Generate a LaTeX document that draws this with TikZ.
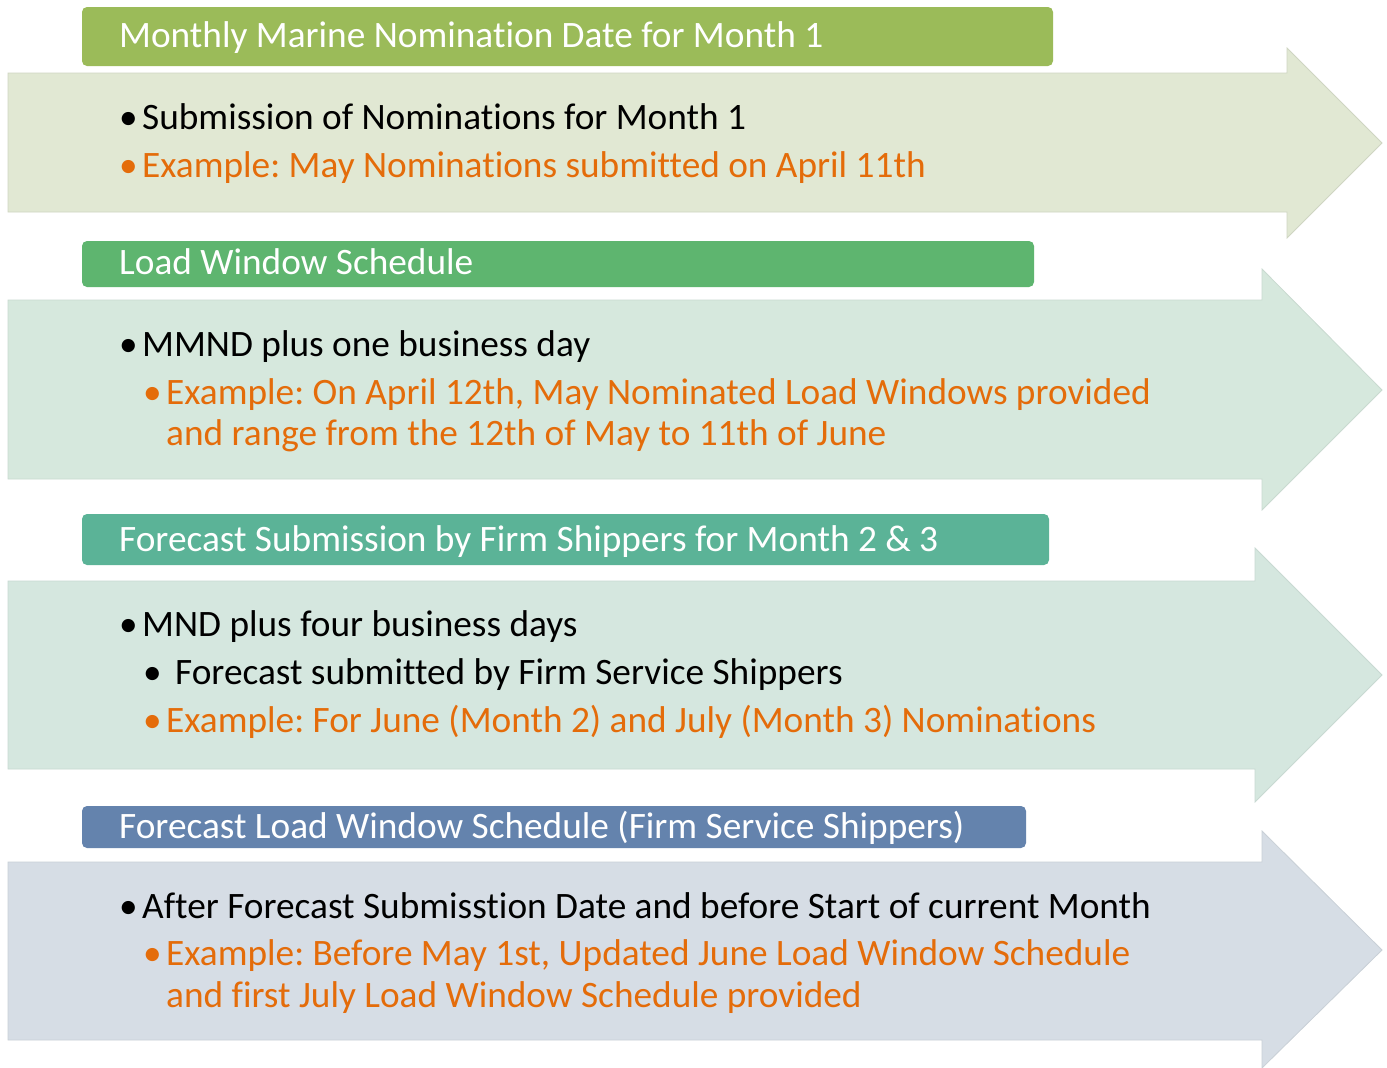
\documentclass[tikz,border=0pt]{standalone}
\usepackage{fontspec}
\setmainfont{Carlito}[Ligatures=NoCommon]
\frenchspacing
\begin{document}
\begin{tikzpicture}[x=1pt,y=-1pt,
  hdr/.style={rounded corners=5pt},
  htext/.style={anchor=base west,inner sep=0pt,text=white,font=\fontsize{37.3}{44}\selectfont},
  btext/.style={anchor=base west,inner sep=0pt,text=black,font=\fontsize{37.3}{44}\selectfont},
  otext/.style={anchor=base west,inner sep=0pt,text=exorange,font=\fontsize{37.3}{44}\selectfont},
]
\definecolor{exorange}{HTML}{E46C0A}
\definecolor{hdrA}{HTML}{9BBB59}
\definecolor{hdrB}{HTML}{5EB56F}
\definecolor{hdrC}{HTML}{5BB397}
\definecolor{hdrD}{HTML}{6483AD}
\definecolor{arrA}{HTML}{E1E8D3}
\definecolor{arrB}{HTML}{D6E8DD}
\definecolor{arrC}{HTML}{D5E7DF}
\definecolor{arrD}{HTML}{D6DDE5}
\useasboundingbox (0,0) rectangle (1387,1068);
\fill[white] (0,0) rectangle (1387,1068);

% block arrows
\filldraw[fill=arrA,draw=arrA!92!black,line width=0.8pt]
  (8,73) -- (1287,73) -- (1287,48) -- (1382,143) -- (1287,238) -- (1287,212) -- (8,212) -- cycle;
\filldraw[fill=arrB,draw=arrB!94!black,line width=0.8pt]
  (8,300) -- (1262,300) -- (1262,269) -- (1382,390) -- (1262,510) -- (1262,479) -- (8,479) -- cycle;
\filldraw[fill=arrC,draw=arrC!94!black,line width=0.8pt]
  (8,581) -- (1255,581) -- (1255,548) -- (1382,675) -- (1255,802) -- (1255,769) -- (8,769) -- cycle;
\filldraw[fill=arrD,draw=arrD!94!black,line width=0.8pt]
  (8,862) -- (1262,862) -- (1262,831) -- (1382,950) -- (1262,1068) -- (1262,1040) -- (8,1040) -- cycle;

% header bars
\fill[hdr,hdrA] (82,7) rectangle (1053,66);
\fill[hdr,hdrB] (82,241) rectangle (1034,287);
\fill[hdr,hdrC] (82,514) rectangle (1049,565);
\fill[hdr,hdrD] (82,806) rectangle (1026,848);

\node[htext] (h1) at (119,47) {Monthly Marine Nomination Date for Month 1};
\node[htext] (h2) at (119,274) {Load Window Schedule};
\node[htext] (h3) at (119,551) {Forecast Submission by Firm Shippers for Month 2 \& 3};
\node[htext] (h4) at (119,838) {Forecast Load Window Schedule (Firm Service Shippers)};

% section 1
\node[btext] (a1) at (119,129) {\makebox[23pt][l]{•}Submission of Nominations for Month 1};
\node[otext] (a2) at (119,177) {\makebox[23pt][l]{•}Example: May Nominations submitted on April 11th};

% section 2
\node[btext] (b1) at (119,356) {\makebox[23pt][l]{•}MMND plus one business day};
\node[otext] (b2) at (143,404) {\makebox[23pt][l]{•}Example: On April 12th, May Nominated Load Windows provided};
\node[otext] (b3) at (166,445) {and range from the 12th of May to 11th of June};

% section 3
\node[btext] (c1) at (119,636) {\makebox[23pt][l]{•}MND plus four business days};
\node[btext] (c2) at (143,684) {\makebox[32pt][l]{•}Forecast submitted by Firm Service Shippers};
\node[otext] (c3) at (143,732) {\makebox[23pt][l]{•}Example: For June (Month 2) and July (Month 3) Nominations};

% section 4
\node[btext] (d1) at (119,918) {\makebox[23pt][l]{•}After Forecast Submisstion Date and before Start of current Month};
\node[otext] (d2) at (143,965) {\makebox[23pt][l]{•}Example: Before May 1st, Updated June Load Window Schedule};
\node[otext] (d3) at (166,1007) {and first July Load Window Schedule provided};
\end{tikzpicture}
\end{document}
